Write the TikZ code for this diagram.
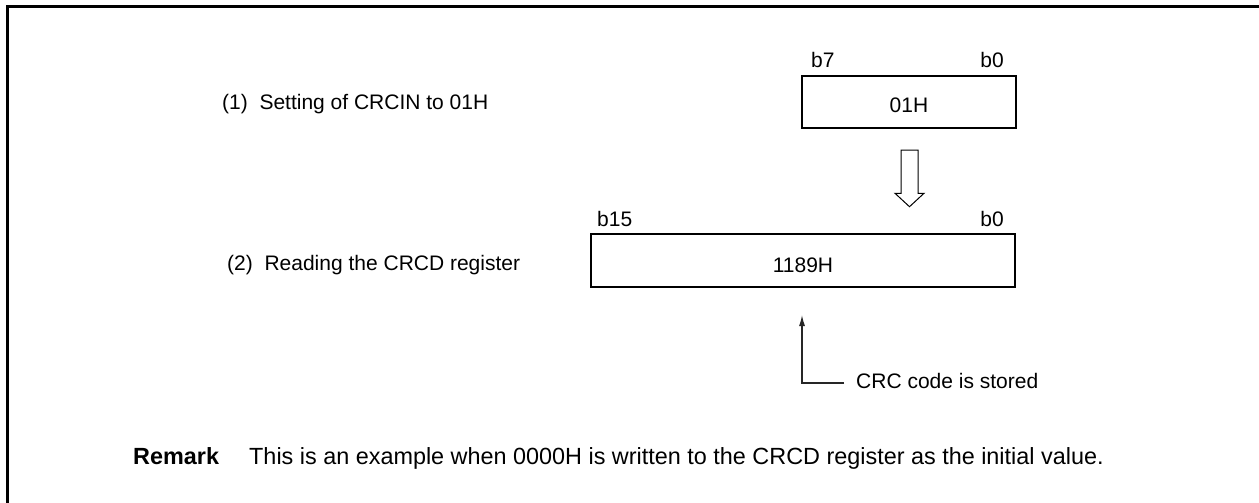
\documentclass[tikz,border=0pt]{standalone}
\usepackage{fontspec}
\setmainfont{Liberation Sans}
\usetikzlibrary{arrows.meta}
\begin{document}
\begin{tikzpicture}[x=1pt,y=-1pt,
  txt/.style={inner sep=0pt, font=\fontsize{21}{25}\selectfont},
  remtxt/.style={inner sep=0pt, font=\fontsize{23.4}{27}\selectfont},
  regbox/.style={draw, line width=2.6pt, inner sep=0pt},
  conn/.style={line width=1.3pt, draw=black!85}
]
\useasboundingbox[fill=white] (0,0) rectangle (1259,503);
% frame
\draw[line width=3pt, line join=miter] (7.5,510) -- (7.5,6.2) -- (1265,6.2);

% step (1)
\node[txt, anchor=base west] (s1) at (222,110) {(1)\ \ Setting of CRCIN to 01H};
\node[regbox, minimum width=214pt, minimum height=52pt] (r1) at (909,102) {};
\node[txt, anchor=base] (v1) at (909,112) {01H};
\node[txt, anchor=base west] (b7) at (811,67) {b7};
\node[txt, anchor=base east] (b0a) at (1004,67) {b0};

% hollow arrow
\draw[line width=1pt, fill=white] (901,150) -- (918,150) -- (918,193.3) -- (924,193.3)
  -- (909.5,206.7) -- (895,193.3) -- (901,193.3) -- cycle;

% step (2)
\node[txt, anchor=base west] (s2) at (227,270) {(2)\ \ Reading the CRCD register};
\node[regbox, minimum width=424pt, minimum height=53pt] (r2) at (803,260.5) {};
\node[txt, anchor=base] (v2) at (803,272) {1189H};
\node[txt, anchor=base west] (b15) at (597,226) {b15};
\node[txt, anchor=base east] (b0b) at (1004,226) {b0};

% note
\node[txt, anchor=base west] (note) at (856,388) {CRC code is stored};
\coordinate (nend) at (844,383);
\coordinate (ncorner) at (802,383);
\coordinate (ntip) at (802,315);
\draw[conn, -{Latex[length=11pt,width=6pt]}] (nend) -- (ncorner) -- (ntip);

% remark
\node[remtxt, anchor=base west] (rem) at (133,464) {\textbf{Remark}};
\node[remtxt, anchor=base west] (remt) at (249,464) {This is an example when 0000H is written to the CRCD register as the initial value.};
\end{tikzpicture}
\end{document}
